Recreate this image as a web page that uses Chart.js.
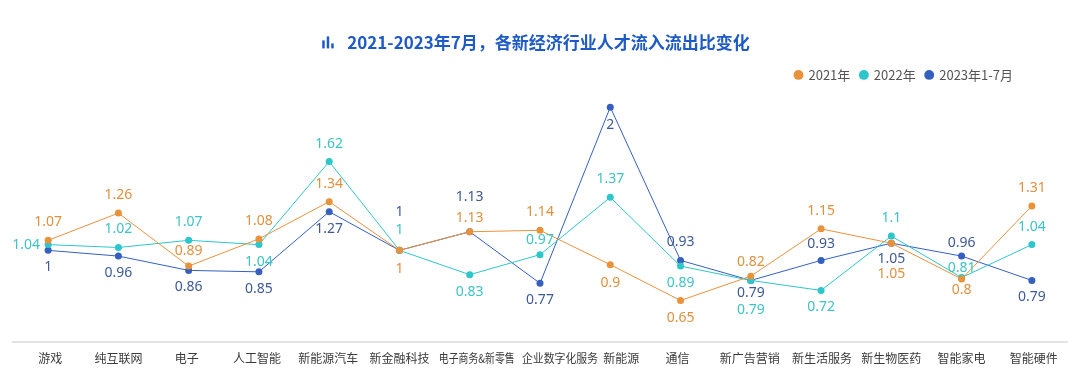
<!DOCTYPE html>
<html>
<head>
<meta charset="utf-8">
<script src="https://cdn.jsdelivr.net/npm/chart.js@4"></script>
<style>
  html, body { margin: 0; padding: 0; background: #fff; }
  #wrap { width: 1080px; height: 386px; }
</style>
</head>
<body>
<div id="wrap"><canvas id="grafico"></canvas></div>
<script>
// dados
const categorias = ["游戏", "纯互联网", "电子", "人工智能", "新能源汽车", "新金融科技", "电子商务&新零售",
  "企业数字化服务", "新能源", "通信", "新广告营销", "新生活服务", "新生物医药", "智能家电", "智能硬件"];
const serie2021 = [1.07, 1.26, 0.89, 1.08, 1.34, 1, 1.13, 1.14, 0.9, 0.65, 0.82, 1.15, 1.05, 0.8, 1.31];
const serie2022 = [1.04, 1.02, 1.07, 1.04, 1.62, 1, 0.83, 0.97, 1.37, 0.89, 0.79, 0.72, 1.1, 0.81, 1.04];
const serie2023 = [1, 0.96, 0.86, 0.85, 1.27, 1, 1.13, 0.77, 2, 0.93, 0.79, 0.93, 1.05, 0.96, 0.79];
const titulo = "2021-2023年7月，各新经济行业人才流入流出比变化";

// posicao dos rotulos (dy em px, negativo = acima)
const rotulos2021 = [-18, -18, -15, -18, -18, 19, -14, -18, 18, 18, -14, -18, 31, 11, -18];
const rotulos2022 = [0, -18, -18, 17, -18, -20, 17, -15, -18, 17, 30, 17, -18, -10, -18];
const rotulos2023 = [17, 17, 17, 17, 17, -38, -35, 17, 18, -18, 13, -16, 16, -13, 17];
const deslocX2022 = [-22, 0, 0, 0, 0, 0, 0, 0, 0, 0, 0, 0, 0, 0, 0];
// deslocamento horizontal dos nomes das categorias (evita sobreposicao)
const deslocCategorias = [2, 0, -2, -2, -1, 0, 7, 20, 11, -3, -1, 1, 0, 0, 2];

const cores = {
  c2021: "#E8923C", c2022: "#2DC6CB", c2023: "#3560C0",
  t2021: "#E0913F", t2022: "#3EC3C6", t2023: "#3E5A96"
};

// rotulos de valor
const pluginRotulos = {
  id: "rotulos",
  afterDatasetsDraw(chart) {
    const ctx = chart.ctx;
    ctx.save();
    ctx.font = "14px 'Noto Sans', sans-serif";
    ctx.textAlign = "center";
    ctx.textBaseline = "middle";
    chart.data.datasets.forEach((ds, i) => {
      const meta = chart.getDatasetMeta(i);
      ctx.fillStyle = ds.corRotulo;
      meta.data.forEach((p, j) => {
        const dx = ds.dx ? ds.dx[j] : 0;
        ctx.fillText(String(ds.data[j]), p.x + dx, p.y + ds.dy[j]);
      });
    });
    ctx.restore();
  }
};

// nomes das categorias, icone do titulo, legenda um pouco para a esquerda
const pluginExtras = {
  id: "extras",
  beforeDraw(chart) {
    if (chart.legend && !chart.legend._movida) {
      chart.legend.right -= 44;
      chart.legend._movida = true;
    }
  },
  afterDraw(chart) {
    const ctx = chart.ctx;
    ctx.save();
    // categorias
    const sx = chart.scales.x;
    ctx.font = "12px 'Noto Sans CJK SC', sans-serif";
    ctx.fillStyle = "#3a3a3a";
    ctx.textAlign = "center";
    ctx.textBaseline = "middle";
    categorias.forEach((c, i) => {
      ctx.fillText(c, sx.getPixelForTick(i) + deslocCategorias[i], chart.chartArea.bottom + 16, 76);
    });
    // icone
    const t = chart.titleBlock;
    ctx.font = "bold 17px 'Noto Sans CJK SC', sans-serif";
    const w = ctx.measureText(chart.options.plugins.title.text).width;
    const x0 = 540 - w / 2 - 8;
    const base = t.top + t.height - t.options.padding.bottom - 4;
    ctx.fillStyle = "#1E5BC6";
    ctx.fillRect(x0, base - 8, 2.5, 8);
    ctx.fillRect(x0 + 4.5, base - 12, 2.5, 12);
    ctx.fillRect(x0 + 9, base - 5, 2.5, 5);
    ctx.restore();
  }
};

const ctx = document.getElementById("grafico");
new Chart(ctx, {
  type: "line",
  data: {
    labels: categorias,
    datasets: [
      { label: "2021年", data: serie2021, borderColor: cores.c2021, backgroundColor: cores.c2021,
        corRotulo: cores.t2021, dy: rotulos2021 },
      { label: "2022年", data: serie2022, borderColor: cores.c2022, backgroundColor: cores.c2022,
        corRotulo: cores.t2022, dy: rotulos2022, dx: deslocX2022 },
      { label: "2023年1-7月", data: serie2023, borderColor: cores.c2023, backgroundColor: cores.c2023,
        corRotulo: cores.t2023, dy: rotulos2023 }
    ]
  },
  options: {
    responsive: true,
    maintainAspectRatio: false,
    animation: false,
    elements: {
      line: { borderWidth: 1, tension: 0 },
      point: { radius: 3.5, borderWidth: 0, hoverRadius: 4 }
    },
    layout: { padding: { left: 13, right: 13, top: 0, bottom: 44 } },
    plugins: {
      title: {
        display: true,
        text: "\u3000" + titulo,
        color: "#1E5BC6",
        font: { size: 17, weight: "bold", family: "'Noto Sans CJK SC', sans-serif" },
        padding: { top: 32, bottom: 6 }
      },
      legend: {
        position: "top",
        align: "end",
        labels: {
          usePointStyle: true,
          pointStyle: "circle",
          boxWidth: 7,
          boxHeight: 7,
          padding: 10,
          color: "#555",
          font: { size: 13, family: "'Noto Sans CJK SC', sans-serif" }
        }
      },
      tooltip: { enabled: false }
    },
    scales: {
      x: {
        offset: true,
        grid: { display: false, drawTicks: false },
        border: { display: true, color: "#E3E3E3", width: 2 },
        ticks: { display: false }
      },
      y: {
        display: false,
        min: 0.36,
        max: 2.11
      }
    }
  },
  plugins: [pluginRotulos, pluginExtras]
});
</script>
</body>
</html>
